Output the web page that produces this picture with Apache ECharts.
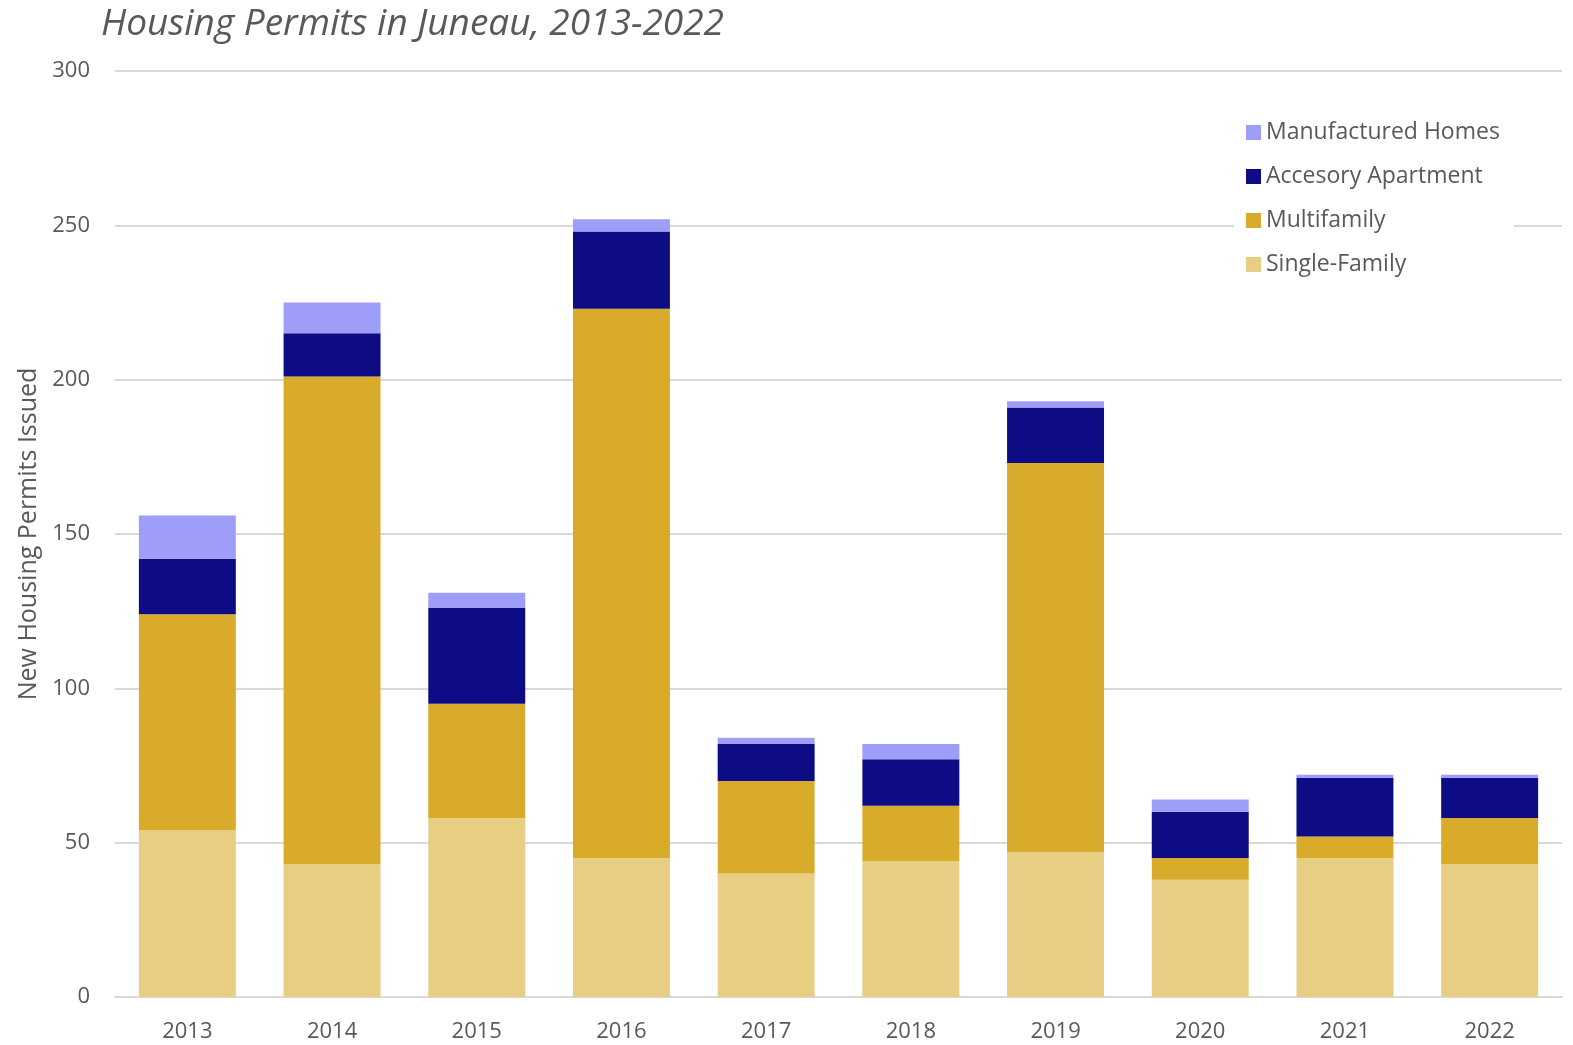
<!DOCTYPE html>
<html>
<head>
<meta charset="utf-8">
<title>Housing Permits in Juneau, 2013-2022</title>
<script src="https://cdn.jsdelivr.net/npm/echarts@6/dist/echarts.min.js"></script>
<style>
  html, body { margin: 0; padding: 0; background: #ffffff; }
  #chart { width: 1573px; height: 1045px; }
</style>
</head>
<body>
<div id="chart"></div>
<script>
// Permit counts per year, by housing type
const years = ['2013', '2014', '2015', '2016', '2017', '2018', '2019', '2020', '2021', '2022'];
const singleFamily = [54, 43, 58, 45, 40, 44, 47, 38, 45, 43];
const multifamily = [70, 158, 37, 178, 30, 18, 126, 7, 7, 15];
const accessoryApartment = [18, 14, 31, 25, 12, 15, 18, 15, 19, 13];
const manufacturedHomes = [14, 10, 5, 4, 2, 5, 2, 4, 1, 1];
const yTicks = [0, 50, 100, 150, 200, 250, 300];

const textColor = '#595959';
const font = '"Open Sans", "Noto Sans", sans-serif';

const chart = echarts.init(document.getElementById('chart'), null, { renderer: 'canvas' });

function stackSeries(name, data, color) {
  return {
    name: name,
    type: 'bar',
    stack: 'permits',
    data: data,
    barCategoryGap: '33%',
    itemStyle: { color: color },
    emphasis: { disabled: true }
  };
}

chart.setOption({
  animation: false,
  backgroundColor: '#ffffff',
  textStyle: { fontFamily: font, color: textColor },
  title: {
    text: 'Housing Permits in Juneau, 2013-2022',
    left: 96,
    top: 1,
    textStyle: {
      fontFamily: font,
      fontStyle: 'italic',
      fontWeight: 'normal',
      fontSize: 37,
      color: textColor
    }
  },
  grid: { left: 115, right: 11, top: 71, bottom: 48, containLabel: false },
  legend: {
    orient: 'vertical',
    left: 1234,
    top: 111,
    padding: [10, 14, 10, 12],
    backgroundColor: '#ffffff',
    itemWidth: 15,
    itemHeight: 15,
    itemGap: 21,
    icon: 'rect',
    data: ['Manufactured Homes', 'Accesory Apartment', 'Multifamily', 'Single-Family'],
    textStyle: { fontFamily: font, fontSize: 23, color: textColor }
  },
  xAxis: {
    type: 'category',
    data: years,
    axisLine: { show: true, lineStyle: { color: '#D9D9D9', width: 2 } },
    axisTick: { show: false },
    axisLabel: { fontFamily: font, fontSize: 22, color: textColor, margin: 24 }
  },
  yAxis: {
    type: 'value',
    min: yTicks[0],
    max: yTicks[yTicks.length - 1],
    interval: yTicks[1] - yTicks[0],
    name: 'New Housing Permits Issued',
    nameLocation: 'middle',
    nameGap: 74,
    nameTextStyle: { fontFamily: font, fontSize: 25, color: textColor },
    axisLine: { show: false },
    axisTick: { show: false },
    axisLabel: { fontFamily: font, fontSize: 22, color: textColor, margin: 25 },
    splitLine: { lineStyle: { color: '#D9D9D9', width: 2 } }
  },
  series: [
    stackSeries('Single-Family', singleFamily, '#E7CE83'),
    stackSeries('Multifamily', multifamily, '#D8AB2B'),
    stackSeries('Accesory Apartment', accessoryApartment, '#0E0C84'),
    stackSeries('Manufactured Homes', manufacturedHomes, '#9E9EF9')
  ]
});
</script>
</body>
</html>
